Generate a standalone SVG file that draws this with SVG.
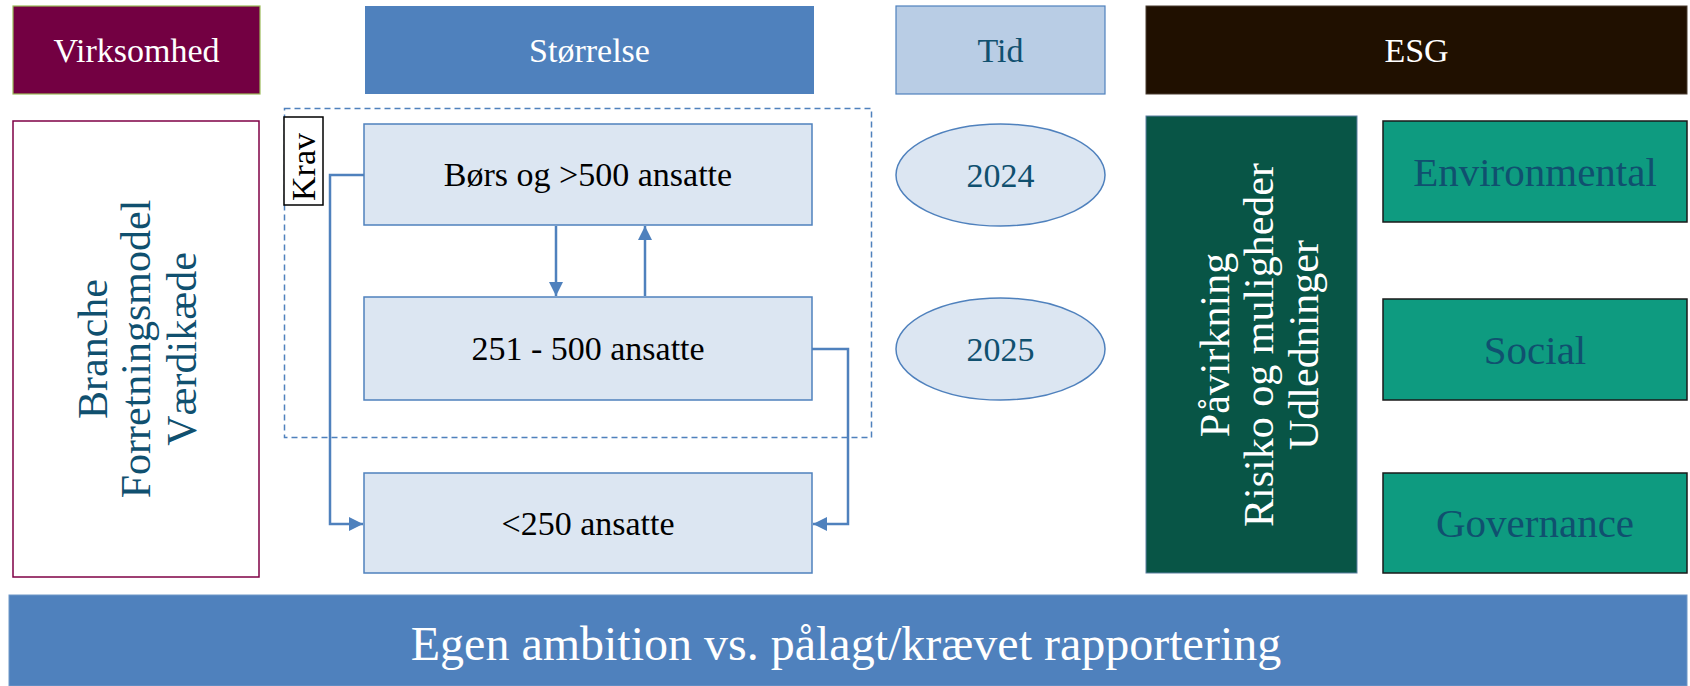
<svg xmlns="http://www.w3.org/2000/svg" width="1690" height="686" viewBox="0 0 1690 686">
  <style>
    text { font-family: "Liberation Serif", "DejaVu Serif", serif; text-anchor: middle; }
    .hdr { font-size: 34px; }
    .w { fill: #ffffff; }
    .blue { fill: #10506f; }
    .blk { fill: #000000; }
    .lite { fill: #dce6f2; stroke: #4f81bd; stroke-width: 1.5; }
    .teal { fill: #0e9b80; stroke: #1a1a1a; stroke-width: 1.5; }
    .conn { fill: none; stroke: #4f81bd; stroke-width: 2.5; }
  </style>
  <defs>
    <marker id="arr" viewBox="0 0 10 10" refX="10" refY="5" markerWidth="15" markerHeight="14" markerUnits="userSpaceOnUse" orient="auto">
      <path d="M0,0 L10,5 L0,10 z" fill="#4f81bd"/>
    </marker>
  </defs>

  <rect width="1690" height="686" fill="#ffffff"/>

  <!-- header row -->
  <g id="hdr-virksomhed">
    <rect x="13" y="6" width="247" height="88" fill="#730042" stroke="#9bbb59" stroke-width="1.2"/>
    <text class="hdr w" x="136.5" y="62">Virksomhed</text>
  </g>
  <g id="hdr-stoerrelse">
    <rect x="365" y="6" width="449" height="88" fill="#4f81bd"/>
    <text class="hdr w" x="589.5" y="62">Størrelse</text>
  </g>
  <g id="hdr-tid">
    <rect x="896" y="6" width="209" height="88" fill="#b9cde5" stroke="#4f81bd" stroke-width="1.2"/>
    <text class="hdr blue" x="1000.5" y="62">Tid</text>
  </g>
  <g id="hdr-esg">
    <rect x="1146" y="6" width="541" height="88" fill="#201000" stroke="#4a3c30" stroke-width="1"/>
    <text class="hdr w" x="1416.5" y="62">ESG</text>
  </g>

  <!-- company column -->
  <g id="virksomhed-box">
    <rect x="13" y="121" width="246" height="456" fill="#ffffff" stroke="#7f0045" stroke-width="1.5"/>
    <g transform="translate(0,349) rotate(-90)" class="blue" font-size="42">
      <text x="0" y="107">Branche</text>
      <text x="0" y="150">Forretningsmodel</text>
      <text x="0" y="196">Værdikæde</text>
    </g>
  </g>

  <!-- requirement scope -->
  <g id="krav-scope">
    <rect x="284.5" y="108.5" width="587" height="329" fill="none" stroke="#4f81bd" stroke-width="1.5" stroke-dasharray="6 4"/>
    <rect x="284" y="117" width="39" height="88" fill="#ffffff" stroke="#000000" stroke-width="1.5"/>
    <text class="blk" font-size="34" transform="translate(315,167) rotate(-90)" x="0" y="0">Krav</text>
  </g>

  <!-- size boxes -->
  <g id="size-boers">
    <rect class="lite" x="364" y="124" width="448" height="101"/>
    <text class="blk" font-size="34" x="588" y="186">Børs og &gt;500 ansatte</text>
  </g>
  <g id="size-251-500">
    <rect class="lite" x="364" y="297" width="448" height="103"/>
    <text class="blk" font-size="34" x="588" y="360">251 - 500 ansatte</text>
  </g>
  <g id="size-under-250">
    <rect class="lite" x="364" y="473" width="448" height="100"/>
    <text class="blk" font-size="34" x="588" y="535">&lt;250 ansatte</text>
  </g>

  <!-- timeline -->
  <g id="tid-2024">
    <ellipse class="lite" cx="1000.5" cy="175" rx="104.5" ry="51"/>
    <text class="blue" font-size="34" x="1000.5" y="187">2024</text>
  </g>
  <g id="tid-2025">
    <ellipse class="lite" cx="1000.5" cy="349" rx="104.5" ry="51"/>
    <text class="blue" font-size="34" x="1000.5" y="361">2025</text>
  </g>

  <!-- ESG column -->
  <g id="esg-dimensions">
    <rect x="1146" y="116" width="211" height="457" fill="#085546" stroke="#5b7fa0" stroke-width="1"/>
    <g transform="translate(0,345) rotate(-90)" class="w" font-size="42">
      <text x="0" y="1229">Påvirkning</text>
      <text x="0" y="1273">Risiko og muligheder</text>
      <text x="0" y="1318">Udledninger</text>
    </g>
  </g>
  <g id="esg-environmental">
    <rect class="teal" x="1383" y="121" width="304" height="101"/>
    <text class="blue" font-size="41" x="1535" y="186">Environmental</text>
  </g>
  <g id="esg-social">
    <rect class="teal" x="1383" y="299" width="304" height="101"/>
    <text class="blue" font-size="41" x="1535" y="364">Social</text>
  </g>
  <g id="esg-governance">
    <rect class="teal" x="1383" y="473" width="304" height="100"/>
    <text class="blue" font-size="41" x="1535" y="537">Governance</text>
  </g>

  <!-- footer band -->
  <g id="footer">
    <rect x="9" y="595" width="1678" height="91" fill="#4f81bd" stroke="#6f97c8" stroke-width="1"/>
    <text class="w" font-size="48" x="846" y="660">Egen ambition vs. pålagt/krævet rapportering</text>
  </g>

  <!-- connectors -->
  <g id="connectors">
    <path class="conn" d="M364,175 H330 V524 H363" marker-end="url(#arr)"/>
    <path class="conn" d="M812,349 H848 V524 H813" marker-end="url(#arr)"/>
    <path class="conn" d="M556,226 V296" marker-end="url(#arr)"/>
    <path class="conn" d="M645,296 V226" marker-end="url(#arr)"/>
  </g>
</svg>
